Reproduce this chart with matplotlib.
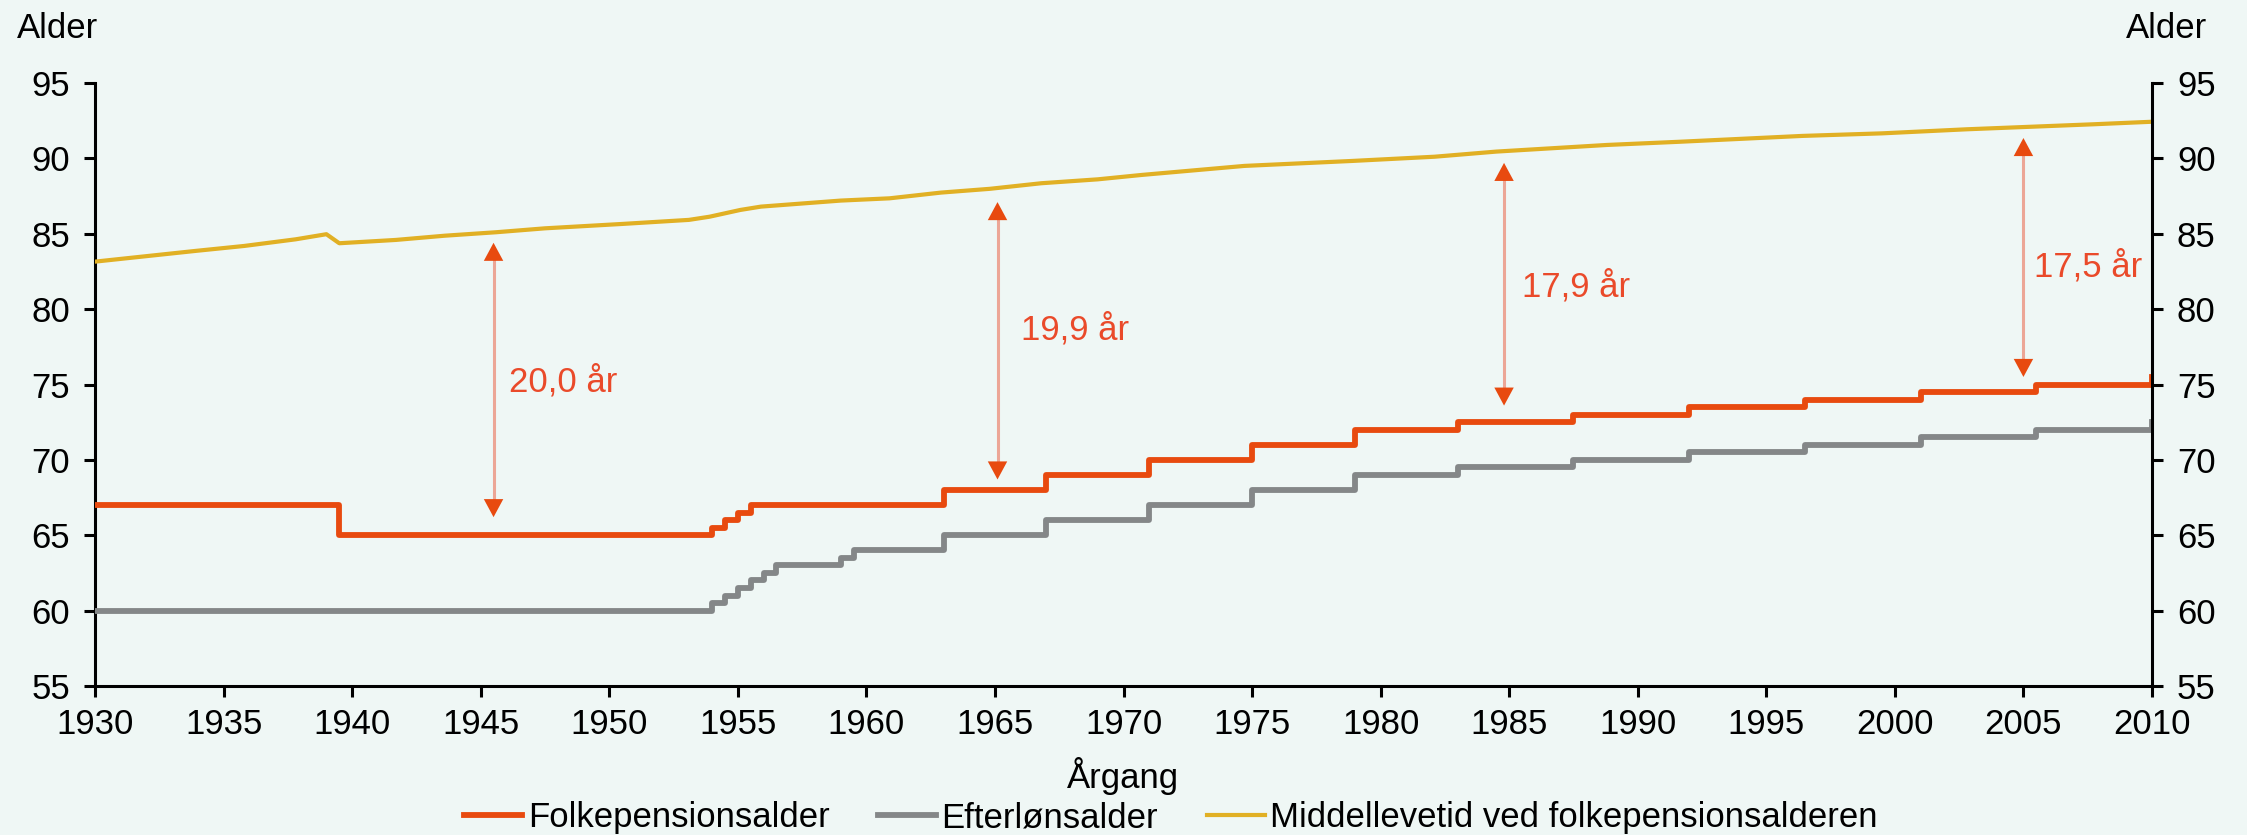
import numpy as np
import matplotlib
matplotlib.use("Agg")
import matplotlib.pyplot as plt

plt.rcParams['font.family'] = ['Liberation Sans', 'DejaVu Sans']

# Folkepensionsalder (step series, value holds from year until next year)
folk_years = [1930, 1939.5, 1954, 1954.5, 1955, 1955.5, 1963, 1967, 1971, 1975,
              1979, 1983, 1987.5, 1992, 1996.5, 2001, 2005.5, 2010]
folk_age = [67, 65, 65.5, 66, 66.5, 67, 68, 69, 70, 71,
            72, 72.5, 73, 73.5, 74, 74.5, 75, 75.5]

# Efterlønsalder (step series)
eft_years = [1930, 1954, 1954.5, 1955, 1955.5, 1956, 1956.5, 1959, 1959.5, 1963,
             1967, 1971, 1975, 1979, 1983, 1987.5, 1992, 1996.5, 2001, 2005.5, 2010]
eft_age = [60, 60.5, 61, 61.5, 62, 62.5, 63, 63.5, 64, 65,
           66, 67, 68, 69, 69.5, 70, 70.5, 71, 71.5, 72, 72.5]

# Middellevetid ved folkepensionsalderen
mid_years = [1930, 1933.9, 1935.8, 1937.8, 1939.0, 1939.5, 1941.7, 1943.6, 1945.6,
             1947.5, 1950.5, 1953.1, 1953.9, 1955.1, 1955.9, 1959.0, 1960.9, 1962.9,
             1964.8, 1966.8, 1969.0, 1970.7, 1974.7, 1978.9, 1982.1, 1984.5, 1988.8,
             1991.6, 1996.4, 1999.5, 2002.8, 2007.7, 2010]
mid_age = [83.15, 83.86, 84.19, 84.63, 84.97, 84.37, 84.59, 84.87, 85.1,
           85.36, 85.65, 85.92, 86.13, 86.58, 86.8, 87.2, 87.35, 87.73,
           87.98, 88.35, 88.61, 88.9, 89.5, 89.83, 90.11, 90.45, 90.89,
           91.1, 91.49, 91.66, 91.93, 92.26, 92.43]

# gap annotations: label, arrow x, arrow top, arrow bottom, label position
gap_labels = ["20,0 år", "19,9 år", "17,9 år", "17,5 år"]
gap_x = [1945.5, 1965.1, 1984.8, 2005.0]
gap_top = [84.4, 87.1, 89.7, 91.35]
gap_bottom = [66.2, 68.7, 73.6, 75.5]
gap_label_x = [1946.1, 1966.0, 1985.5, 2005.4]
gap_label_y = [75.15, 78.66, 81.5, 82.84]

x_ticks = list(range(1930, 2011, 5))
y_ticks = list(range(55, 96, 5))

bg = '#EFF7F5'
c_folk = '#E84A0F'
c_eft = '#848788'
c_mid = '#E1B024'
fs = 25

fig = plt.figure(figsize=(22.47, 8.35), dpi=100, facecolor=bg)
ax = fig.add_axes([95 / 2247, 149 / 835, 2057 / 2247, 603 / 835])
ax.set_facecolor(bg)

ax.plot(mid_years, mid_age, color=c_mid, lw=3, label='Middellevetid ved folkepensionsalderen', zorder=3)
ax.plot(eft_years, eft_age, color=c_eft, lw=4.2, drawstyle='steps-post', label='Efterlønsalder', zorder=4)
ax.plot(folk_years, folk_age, color=c_folk, lw=4.2, drawstyle='steps-post', label='Folkepensionsalder', zorder=5)

# arrows between the orange line and the yellow line
for lab, x, yt, yb, lx, ly in zip(gap_labels, gap_x, gap_top, gap_bottom, gap_label_x, gap_label_y):
    ax.plot([x, x], [yb + 0.8, yt - 0.8], color='#ECA696', lw=2.2, zorder=2)
    ax.annotate('', xy=(x, yt), xytext=(x, yb),
                arrowprops=dict(arrowstyle='<|-|>,head_length=0.65,head_width=0.35',
                                mutation_scale=20, color=c_folk, lw=0,
                                shrinkA=0, shrinkB=0), zorder=2)
    ax.text(lx, ly, lab, color='#EA4A2A', fontsize=fs, ha='left', va='center')

ax.set_xlim(1930, 2010)
ax.set_ylim(55, 95)
ax.set_xticks(x_ticks)
ax.set_yticks(y_ticks)

ax2 = ax.twinx()
ax2.set_ylim(55, 95)
ax2.set_yticks(y_ticks)

for a in (ax, ax2):
    for s in a.spines.values():
        s.set_visible(False)
    a.tick_params(labelsize=fs, length=8, width=2.2, color='black', labelcolor='black')
ax.spines['left'].set_visible(True)
ax.spines['bottom'].set_visible(True)
ax2.spines['right'].set_visible(True)
for s in (ax.spines['left'], ax.spines['bottom'], ax2.spines['right']):
    s.set_linewidth(2.2)
    s.set_color('black')
ax.tick_params(axis='y', pad=10)
ax.tick_params(axis='x', pad=8)
ax2.tick_params(axis='y', pad=10)

fig.text(17 / 2247, 1 - 38 / 835, 'Alder', fontsize=fs, ha='left', va='baseline')
fig.text(2207 / 2247, 1 - 38 / 835, 'Alder', fontsize=fs, ha='right', va='baseline')
fig.text(1123 / 2247, 47 / 835, 'Årgang', fontsize=fs, ha='center', va='baseline')

h, l = ax.get_legend_handles_labels()
order = [2, 1, 0]
fig.legend([h[i] for i in order], [l[i] for i in order], loc='center',
           bbox_to_anchor=(1171 / 2247, 17 / 835), ncol=3, frameon=False,
           fontsize=fs, handlelength=1.68, handletextpad=0.15, columnspacing=1.4,
           borderpad=0, borderaxespad=0)

fig.savefig('out.png', dpi=100, facecolor=bg)
